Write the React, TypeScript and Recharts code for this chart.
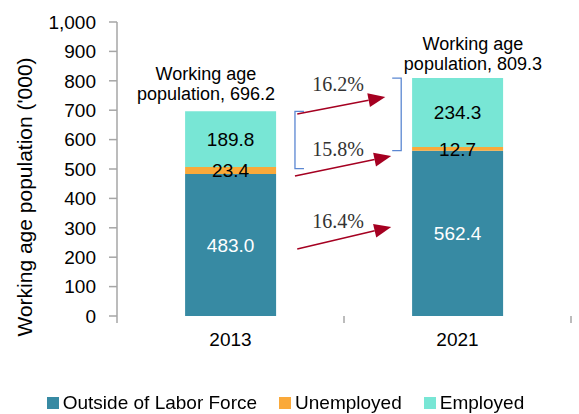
import React from 'react';
import { BarChart, Bar, XAxis, YAxis, Legend, LabelList, ReferenceLine, ReferenceDot } from 'recharts';

const years = ['2013', '2021'];
const outsideLaborForce = [483.0, 562.4];
const unemployed = [23.4, 12.7];
const employed = [189.8, 234.3];
const totals = [696.2, 809.3];
const growthLabels = ['16.2%', '15.8%', '16.4%'];
const yTicks = [0, 100, 200, 300, 400, 500, 600, 700, 800, 900, 1000];
const seriesNames = ['Outside of Labor Force', 'Unemployed', 'Employed'];

const COLORS = { outside: '#378AA3', unemployed: '#FAA93A', employed: '#78E6D5' };
const SANS = '"Liberation Sans", Arial, sans-serif';
const SERIF = '"Liberation Serif", "Times New Roman", serif';
const ARROW = '#A50021';
const BRACKET = '#5B87D2';
const AXIS = '#A6A6A6';

const data = years.map((year, i) => ({
  year,
  outside: outsideLaborForce[i],
  unemployed: unemployed[i],
  employed: employed[i],
}));

// annotation anchors on the hidden numeric x axis (0..1 spans the plot width)
const arrows = [
  { from: [0.397, 687], to: [0.591, 745], label: [0.487, 790] },
  { from: [0.392, 476], to: [0.604, 544], label: [0.487, 568] },
  { from: [0.397, 228], to: [0.604, 303], label: [0.487, 324] },
];
const brackets = [
  { x: 0.392, dir: -1, y1: unemployed[0] + outsideLaborForce[0] - 5, y2: totals[0] },
  { x: 0.626, dir: 1, y1: outsideLaborForce[1], y2: totals[1] },
];
const totalNotes = [
  { x: 0.196, y: 735 },
  { x: 0.784, y: 837 },
];
// category boundary ticks (Excel style)
const boundaryTicks = [0, 0.5, 1];

const fmt = (v: any) => Number(v).toFixed(1);

const ArrowShape = (props: any) => {
  const { x1, y1, x2, y2 } = props;
  if (x1 == null) return null;
  const a = Math.atan2(y2 - y1, x2 - x1);
  const len = 17;
  const half = 7;
  const bx = x2 - len * Math.cos(a);
  const by = y2 - len * Math.sin(a);
  const px = -Math.sin(a) * half;
  const py = Math.cos(a) * half;
  return (
    <g>
      <line x1={x1} y1={y1} x2={bx} y2={by} stroke={ARROW} strokeWidth={1.5} />
      <polygon points={`${x2},${y2} ${bx + px},${by + py} ${bx - px},${by - py}`} fill={ARROW} />
    </g>
  );
};

const makeBracket = (dir: number) => (props: any) => {
  const { x1, y1, x2, y2 } = props;
  if (x1 == null) return null;
  const t = 9 * dir;
  return (
    <path
      d={`M${x1 - t},${y1} L${x1},${y1} L${x2},${y2} L${x2 - t},${y2}`}
      fill="none"
      stroke={BRACKET}
      strokeWidth={1.3}
    />
  );
};

const TickShape = (props: any) => {
  const { x1, y1 } = props;
  if (x1 == null) return null;
  return <line x1={x1} y1={y1} x2={x1} y2={y1 + 7} stroke={AXIS} strokeWidth={1.5} />;
};

const makeText = (text: string, font: string, size: number, color: string) => (props: any) => {
  const { cx, cy } = props;
  if (cx == null) return null;
  return (
    <text x={cx} y={cy} textAnchor="middle" dominantBaseline="central" fontFamily={font} fontSize={size} fill={color}>
      {text}
    </text>
  );
};

const makeTotal = (total: number) => (props: any) => {
  const { cx, cy } = props;
  if (cx == null) return null;
  return (
    <text x={cx} y={cy} textAnchor="middle" fontFamily={SANS} fontSize={18} fill="#000">
      <tspan x={cx} dy={-20}>Working age</tspan>
      <tspan x={cx} dy={20}>{`population, ${fmt(total)}`}</tspan>
    </text>
  );
};

const YLabel = (props: any) => {
  const vb = props.viewBox || {};
  const cy = (vb.y ?? 22) + (vb.height ?? 294) / 2 + 28;
  return (
    <text
      x={24}
      y={cy}
      transform={`rotate(-90, 24, ${cy})`}
      textAnchor="middle"
      dominantBaseline="central"
      fontFamily={SANS}
      fontSize={21}
      fill="#000"
    >
      Working age population ('000)
    </text>
  );
};

const LegendContent = (props: any) => {
  const items = [...(props.payload || [])].sort(
    (a: any, b: any) => seriesNames.indexOf(a.value) - seriesNames.indexOf(b.value)
  );
  return (
    <div style={{ display: 'flex', justifyContent: 'center', fontFamily: SANS, fontSize: 19, color: '#000', marginLeft: -8 }}>
      {items.map((it: any, i: number) => (
        <span key={i} style={{ display: 'flex', alignItems: 'center', marginRight: i < items.length - 1 ? 22 : 0 }}>
          <span style={{ width: 12, height: 12, background: it.color, marginRight: 4, display: 'inline-block' }} />
          {it.value}
        </span>
      ))}
    </div>
  );
};

export default function App() {
  return (
    <div style={{ position: 'fixed', left: 0, top: 0, background: '#fff' }}>
      <BarChart
        width={579}
        height={414}
        data={data}
        margin={{ top: 22, right: 8, bottom: 0, left: 0 }}
        barCategoryGap="30%"
      >
        <XAxis
          xAxisId="n"
          type="number"
          domain={[0, 1]}
          allowDataOverflow
          tick={false}
          tickLine={false}
          height={0}
          axisLine={{ stroke: AXIS, strokeWidth: 1.5 }}
        />
        <XAxis
          dataKey="year"
          axisLine={false}
          tickLine={false}
          tickSize={0}
          tickMargin={17}
          height={68}
          tick={{ fontFamily: SANS, fontSize: 19, fill: '#000' }}
        />
        <YAxis
          domain={[0, 1000]}
          ticks={yTicks}
          width={117}
          tickSize={8}
          tickMargin={13}
          interval={0}
          tickFormatter={(v: number) => v.toLocaleString('en-US')}
          axisLine={{ stroke: AXIS, strokeWidth: 1.5 }}
          tickLine={{ stroke: AXIS, strokeWidth: 1.5 }}
          tick={{ fontFamily: SANS, fontSize: 19, fill: '#000' }}
          label={<YLabel />}
        />
        <Legend
          verticalAlign="bottom"
          content={<LegendContent />}
          wrapperStyle={{ height: 30, top: 392, left: 0, width: 579 }}
        />
        <Bar dataKey="outside" name={seriesNames[0]} stackId="a" fill={COLORS.outside} isAnimationActive={false}>
          <LabelList dataKey="outside" position="center" formatter={fmt} fill="#fff" fontFamily={SANS} fontSize={19} />
        </Bar>
        <Bar dataKey="unemployed" name={seriesNames[1]} stackId="a" fill={COLORS.unemployed} isAnimationActive={false}>
          <LabelList dataKey="unemployed" position="center" formatter={fmt} fill="#000" fontFamily={SANS} fontSize={19} />
        </Bar>
        <Bar dataKey="employed" name={seriesNames[2]} stackId="a" fill={COLORS.employed} isAnimationActive={false}>
          <LabelList dataKey="employed" position="center" formatter={fmt} fill="#000" fontFamily={SANS} fontSize={19} />
        </Bar>
        {boundaryTicks.map((t, i) => (
          <ReferenceLine
            key={`tk-${i}`}
            xAxisId="n"
            segment={[{ x: t, y: 0 }, { x: t, y: 0 }]}
            ifOverflow="visible"
            shape={TickShape}
          />
        ))}
        {brackets.map((b, i) => (
          <ReferenceLine
            key={`br-${i}`}
            xAxisId="n"
            segment={[{ x: b.x, y: b.y2 }, { x: b.x, y: b.y1 }]}
            ifOverflow="visible"
            shape={makeBracket(b.dir)}
          />
        ))}
        {arrows.map((a, i) => (
          <ReferenceLine
            key={`ar-${i}`}
            xAxisId="n"
            segment={[{ x: a.from[0], y: a.from[1] }, { x: a.to[0], y: a.to[1] }]}
            ifOverflow="visible"
            shape={ArrowShape}
          />
        ))}
        {arrows.map((a, i) => (
          <ReferenceDot
            key={`pl-${i}`}
            xAxisId="n"
            x={a.label[0]}
            y={a.label[1]}
            ifOverflow="visible"
            shape={makeText(growthLabels[i], SERIF, 20, '#333')}
          />
        ))}
        {totalNotes.map((n, i) => (
          <ReferenceDot
            key={`tn-${i}`}
            xAxisId="n"
            x={n.x}
            y={n.y}
            ifOverflow="visible"
            shape={makeTotal(totals[i])}
          />
        ))}
      </BarChart>
    </div>
  );
}
